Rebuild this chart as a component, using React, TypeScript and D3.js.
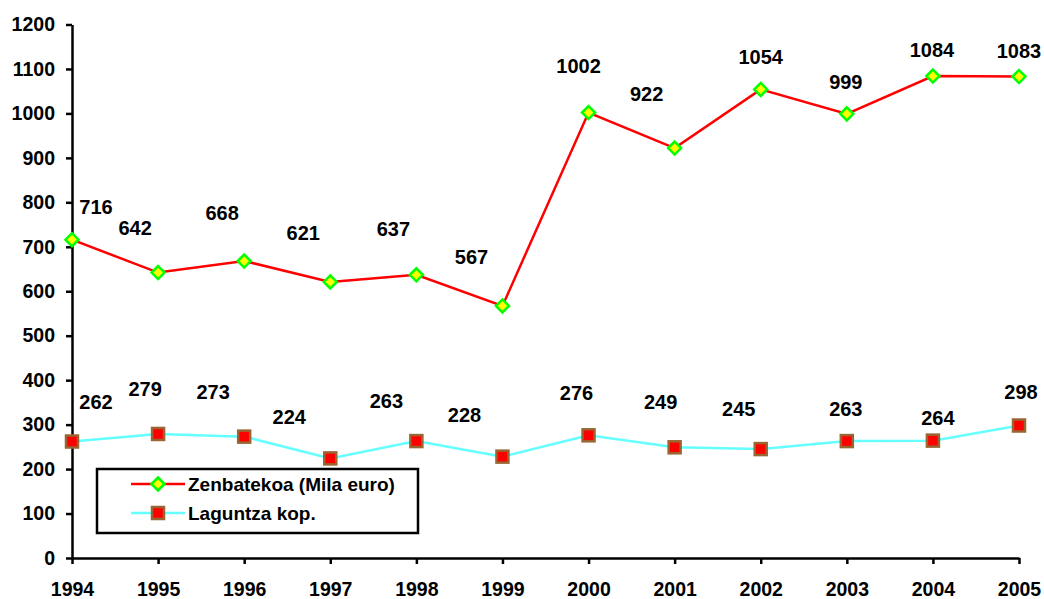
import React, { useRef, useEffect } from "react";
import * as d3 from "d3";

const years = ["1994", "1995", "1996", "1997", "1998", "1999", "2000", "2001", "2002", "2003", "2004", "2005"];
const zenbatekoa = [716, 642, 668, 621, 637, 567, 1002, 922, 1054, 999, 1084, 1083];
const laguntza = [262, 279, 273, 224, 263, 228, 276, 249, 245, 263, 264, 298];
const yTicks = [0, 100, 200, 300, 400, 500, 600, 700, 800, 900, 1000, 1100, 1200];
const seriesNames = ["Zenbatekoa (Mila euro)", "Laguntza kop."];

// hand placed label offsets (px from the point), like in the original sheet
const zenLabelOffsets = [
  [24, -33], [-23, -45], [-22, -48], [-27, -49], [-23, -46], [-31, -49],
  [-10, -47], [-28, -54], [0, -32], [-1, -32], [-1, -26], [0, -26],
];
const lagLabelOffsets = [
  [24, -40], [-13, -45], [-31, -45], [-41, -41], [-30, -40], [-38, -42],
  [-12, -42], [-14, -45], [-22, -40], [-1, -32], [5, -23], [2, -34],
];

const W = 1044;
const H = 599;
const FONT = "'Liberation Sans', Arial, sans-serif";

const App: React.FC = () => {
  const ref = useRef<SVGSVGElement>(null);

  useEffect(() => {
    if (!ref.current) return;
    const svg = d3.select(ref.current);
    svg.selectAll("*").remove();

    const x = d3.scalePoint<string>().domain(years).range([72, 1019]);
    const y = d3.scaleLinear().domain([0, 1200]).range([558, 24.5]);

    // axes
    const yAxis = svg
      .append("g")
      .attr("transform", "translate(72,0)")
      .call(
        d3
          .axisLeft(y)
          .tickValues(yTicks)
          .tickFormat(d3.format("d"))
          .tickSize(6)
          .tickSizeOuter(0)
          .tickPadding(11)
      );
    const xAxis = svg
      .append("g")
      .attr("transform", "translate(0,558)")
      .call(d3.axisBottom(x).tickSize(6).tickSizeOuter(0).tickPadding(18));

    [yAxis, xAxis].forEach((a) => {
      a.attr("font-size", null).attr("font-family", null);
      a.select(".domain").attr("stroke", "#000").attr("stroke-width", 2.5);
      a.selectAll(".tick line").attr("stroke", "#000").attr("stroke-width", 2.5);
      a.selectAll(".tick text")
        .attr("fill", "#000")
        .style("font-family", FONT)
        .style("font-weight", "bold")
        .style("font-size", "19.5px");
    });

    const lineGen = d3
      .line<number>()
      .x((_, i) => x(years[i]) as number)
      .y((d) => y(d));

    // Laguntza kop.
    svg
      .append("path")
      .datum(laguntza)
      .attr("fill", "none")
      .attr("stroke", "#66FFFF")
      .attr("stroke-width", 2.5)
      .attr("d", lineGen);

    // Zenbatekoa
    svg
      .append("path")
      .datum(zenbatekoa)
      .attr("fill", "none")
      .attr("stroke", "#FF0000")
      .attr("stroke-width", 2.5)
      .attr("d", lineGen);

    const drawSquare = (g: any, cx: number, cy: number) => {
      g.append("rect")
        .attr("x", cx - 6)
        .attr("y", cy - 6)
        .attr("width", 12)
        .attr("height", 12)
        .attr("fill", "#FF0000")
        .attr("stroke", "#996633")
        .attr("stroke-width", 2.5);
    };
    const drawDiamond = (g: any, cx: number, cy: number) => {
      g.append("path")
        .attr("d", `M${cx},${cy - 6.5}L${cx + 6.5},${cy}L${cx},${cy + 6.5}L${cx - 6.5},${cy}Z`)
        .attr("fill", "#FFFF00")
        .attr("stroke", "#00FF00")
        .attr("stroke-width", 2.5);
    };

    const marks = svg.append("g");
    laguntza.forEach((d, i) => drawSquare(marks, x(years[i]) as number, y(d)));
    zenbatekoa.forEach((d, i) => drawDiamond(marks, x(years[i]) as number, y(d)));

    // data labels
    const labels = svg
      .append("g")
      .style("font-family", FONT)
      .style("font-weight", "bold")
      .style("font-size", "20px")
      .attr("text-anchor", "middle")
      .attr("dominant-baseline", "central");
    zenbatekoa.forEach((d, i) => {
      labels
        .append("text")
        .attr("x", (x(years[i]) as number) + zenLabelOffsets[i][0])
        .attr("y", y(d) + zenLabelOffsets[i][1])
        .text(d);
    });
    laguntza.forEach((d, i) => {
      labels
        .append("text")
        .attr("x", (x(years[i]) as number) + lagLabelOffsets[i][0])
        .attr("y", y(d) + lagLabelOffsets[i][1])
        .text(d);
    });

    // legend
    const legend = svg.append("g");
    legend
      .append("rect")
      .attr("x", 97)
      .attr("y", 469)
      .attr("width", 321)
      .attr("height", 64)
      .attr("fill", "#fff")
      .attr("stroke", "#000")
      .attr("stroke-width", 2.5);
    const rows = [484, 513];
    const colors = ["#FF0000", "#66FFFF"];
    seriesNames.forEach((name, i) => {
      legend
        .append("line")
        .attr("x1", 131)
        .attr("x2", 185)
        .attr("y1", rows[i])
        .attr("y2", rows[i])
        .attr("stroke", colors[i])
        .attr("stroke-width", 2.5);
      if (i === 0) drawDiamond(legend, 158, rows[i]);
      else drawSquare(legend, 158, rows[i]);
      legend
        .append("text")
        .attr("x", 188)
        .attr("y", rows[i])
        .attr("dominant-baseline", "central")
        .style("font-family", FONT)
        .style("font-weight", "bold")
        .style("font-size", "19px")
        .text(name);
    });
  }, []);

  return (
    <svg
      ref={ref}
      width={W}
      height={H}
      style={{ position: "absolute", left: 0, top: 0, background: "#fff" }}
    ></svg>
  );
};

export default App;
